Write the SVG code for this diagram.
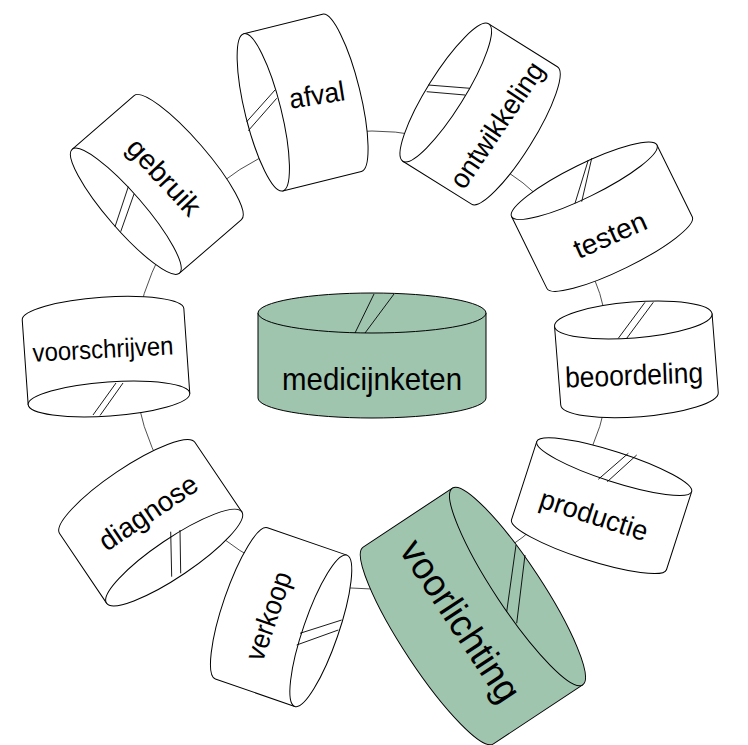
<svg xmlns="http://www.w3.org/2000/svg" width="748" height="745" viewBox="0 0 748 745">
<style>
.cyl{stroke:#000;stroke-width:1;stroke-linejoin:round}
.w{fill:#fff}
.g{fill:#9fc5af}
.seam{stroke:#000;stroke-width:0.9;fill:none}
.ring{fill:none;stroke:#222;stroke-width:0.8}
.lbl{font-family:"Liberation Sans",Arial,sans-serif;fill:#000;text-anchor:middle;dominant-baseline:central;font-size:28px}
</style>
<rect width="748" height="745" fill="#fff"/>
<g id="connectors">
<ellipse class="ring" cx="372" cy="360" rx="238" ry="229"/>
</g>
<g id="medicijnketen">
<g transform="translate(372,355.5)">
<path class="cyl g" d="M-114,-42.5 L-114,42.5 A114,20 0 0 0 114,42.5 L114,-42.5 Z"/>
<ellipse class="cyl g" cx="0" cy="-42.5" rx="114" ry="20"/>
</g>
<line class="seam" x1="374" y1="294" x2="355" y2="333"/>
<line class="seam" x1="394" y1="294" x2="365" y2="333"/>
<text class="lbl" x="372" y="390" style="font-size:32px;dominant-baseline:auto" textLength="180" lengthAdjust="spacingAndGlyphs">medicijnketen</text>
</g>
<g id="afval">
<g transform="translate(302.6,102.6) rotate(-103.9)">
<path class="cyl w" d="M-81,-40.5 L-81,40.5 A81,18 0 0 0 81,40.5 L81,-40.5 Z"/>
<ellipse class="cyl w" cx="0" cy="-40.5" rx="81" ry="18"/>
</g>
<line class="seam" x1="246.7" y1="121.7" x2="275" y2="90"/>
<line class="seam" x1="248.3" y1="130.7" x2="276.7" y2="98.3"/>
<text class="lbl" transform="translate(317,95) rotate(-9)" textLength="56" lengthAdjust="spacingAndGlyphs">afval</text>
</g>
<g id="gebruik">
<g transform="translate(156.8,184.4) rotate(-130.9)">
<path class="cyl w" d="M-82,-41 L-82,41 A82,18 0 0 0 82,41 L82,-41 Z"/>
<ellipse class="cyl w" cx="0" cy="-41" rx="82" ry="18"/>
</g>
<line class="seam" x1="128.3" y1="186.7" x2="115" y2="226.7"/>
<line class="seam" x1="134" y1="194" x2="120.7" y2="231.7"/>
<text class="lbl" transform="translate(164,177) rotate(47)" textLength="94" lengthAdjust="spacingAndGlyphs">gebruik</text>
</g>
<g id="ontwikkeling">
<g transform="translate(480.1,114) rotate(-58)">
<path class="cyl w" d="M-81,-40.5 L-81,40.5 A81,18.5 0 0 0 81,40.5 L81,-40.5 Z"/>
<ellipse class="cyl w" cx="0" cy="-40.5" rx="81" ry="18.5"/>
</g>
<line class="seam" x1="428.3" y1="85" x2="470" y2="88.3"/>
<line class="seam" x1="426.7" y1="91.7" x2="465" y2="95"/>
<text class="lbl" transform="translate(497,125) rotate(-56)" textLength="146" lengthAdjust="spacingAndGlyphs">ontwikkeling</text>
</g>
<g id="testen">
<g transform="translate(601.9,216.7) rotate(-26.2)">
<path class="cyl w" d="M-81,-40 L-81,40 A81,16.5 0 0 0 81,40 L81,-40 Z"/>
<ellipse class="cyl w" cx="0" cy="-40" rx="81" ry="16.5"/>
</g>
<line class="seam" x1="588.3" y1="160" x2="575" y2="203.3"/>
<line class="seam" x1="591.7" y1="158.3" x2="581.7" y2="201.7"/>
<text class="lbl" transform="translate(610,235) rotate(-24)" textLength="77" lengthAdjust="spacingAndGlyphs">testen</text>
</g>
<g id="beoordeling">
<g transform="translate(636.4,359.4) rotate(-4.5)">
<path class="cyl w" d="M-79,-39.5 L-79,39.5 A79,18 0 0 0 79,39.5 L79,-39.5 Z"/>
<ellipse class="cyl w" cx="0" cy="-39.5" rx="79" ry="18"/>
</g>
<line class="seam" x1="645" y1="302.3" x2="618.3" y2="338.3"/>
<line class="seam" x1="653.3" y1="302.3" x2="626.7" y2="338.3"/>
<text class="lbl" transform="translate(634,375) rotate(-2)" style="font-size:29px" textLength="138" lengthAdjust="spacingAndGlyphs">beoordeling</text>
</g>
<g id="productie">
<g transform="translate(601.6,505.7) rotate(17.9)">
<path class="cyl w" d="M-81.4,-41 L-81.4,41 A81.4,15 0 0 0 81.4,41 L81.4,-41 Z"/>
<ellipse class="cyl w" cx="0" cy="-41" rx="81.4" ry="15"/>
</g>
<line class="seam" x1="628.3" y1="453.3" x2="598.3" y2="479.3"/>
<line class="seam" x1="636.7" y1="455" x2="607.3" y2="481.7"/>
<text class="lbl" transform="translate(594,515) rotate(18)" textLength="112" lengthAdjust="spacingAndGlyphs">productie</text>
</g>
<g id="verkoop">
<g transform="translate(281.1,617.1) rotate(109)">
<path class="cyl w" d="M-80,-42 L-80,42 A80,17.6 0 0 0 80,42 L80,-42 Z"/>
<ellipse class="cyl w" cx="0" cy="-42" rx="80" ry="17.6"/>
</g>
<line class="seam" x1="300" y1="633.3" x2="341.7" y2="620"/>
<line class="seam" x1="296.7" y1="645" x2="338.3" y2="630"/>
<text class="lbl" transform="translate(268.5,616) rotate(-71)" textLength="92" lengthAdjust="spacingAndGlyphs">verkoop</text>
</g>
<g id="diagnose">
<g transform="translate(150.7,522.7) rotate(146)">
<path class="cyl w" d="M-81.6,-42 L-81.6,42 A81.6,19 0 0 0 81.6,42 L81.6,-42 Z"/>
<ellipse class="cyl w" cx="0" cy="-42" rx="81.6" ry="19"/>
</g>
<line class="seam" x1="170.7" y1="531.7" x2="171.7" y2="576.7"/>
<line class="seam" x1="180" y1="530" x2="180.7" y2="573.3"/>
<text class="lbl" transform="translate(148.3,512.5) rotate(-34)" textLength="113" lengthAdjust="spacingAndGlyphs">diagnose</text>
</g>
<g id="voorschrijven">
<g transform="translate(106,356.6) rotate(176)">
<path class="cyl w" d="M-81,-42.5 L-81,42.5 A81,17 0 0 0 81,42.5 L81,-42.5 Z"/>
<ellipse class="cyl w" cx="0" cy="-42.5" rx="81" ry="17"/>
</g>
<line class="seam" x1="116" y1="383" x2="93" y2="415"/>
<line class="seam" x1="123" y1="383" x2="100" y2="415.5"/>
<text class="lbl" transform="translate(103,349) rotate(-3)" style="font-size:26px" textLength="141" lengthAdjust="spacingAndGlyphs">voorschrijven</text>
</g>
<g id="voorlichting">
<g transform="translate(472.9,616) rotate(56.5)">
<path class="cyl g" d="M-118,-53.5 L-118,53.5 A118,23 0 0 0 118,53.5 L118,-53.5 Z"/>
<ellipse class="cyl g" cx="0" cy="-53.5" rx="118" ry="23"/>
</g>
<line class="seam" x1="516" y1="545" x2="506.7" y2="611.7"/>
<line class="seam" x1="525" y1="555" x2="516.7" y2="623.3"/>
<text class="lbl" transform="translate(460.7,620.7) rotate(56.5)" style="font-size:38px" textLength="186" lengthAdjust="spacingAndGlyphs">voorlichting</text>
</g>
</svg>
